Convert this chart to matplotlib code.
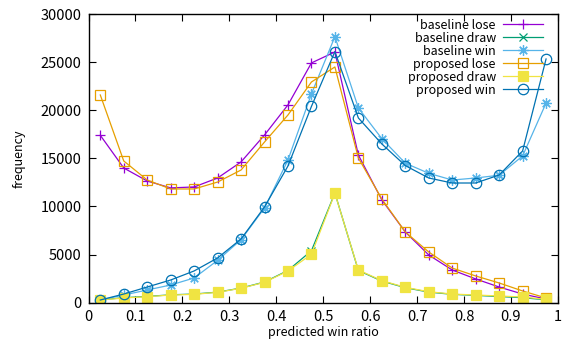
import matplotlib
matplotlib.use("Agg")
import matplotlib.pyplot as plt

plt.rcParams['font.family'] = ['Noto Sans CJK JP', 'DejaVu Sans']

# bin centres of the predicted win ratio
ratio = [0.025, 0.075, 0.125, 0.175, 0.225, 0.275, 0.325, 0.375, 0.425, 0.475,
         0.525, 0.575, 0.625, 0.675, 0.725, 0.775, 0.825, 0.875, 0.925, 0.975]

baseline_lose = [17400, 14000, 12650, 11930, 12030, 12960, 14630, 17430, 20560, 24920,
                 26060, 15350, 10680, 7350, 4960, 3400, 2470, 1630, 900, 380]
baseline_draw = [300, 520, 650, 820, 900, 1100, 1520, 2150, 3350, 5400,
                 11400, 3350, 2250, 1560, 1100, 870, 760, 640, 520, 300]
baseline_win = [280, 800, 1320, 1840, 2570, 4400, 6550, 9850, 14830, 21700,
                27650, 20240, 17050, 14500, 13450, 12750, 12960, 13250, 15250, 20750]
proposed_lose = [21590, 14730, 12750, 11820, 11820, 12540, 13790, 16700, 19510, 22940,
                 24500, 15040, 10780, 7350, 5270, 3600, 2780, 2050, 1220, 490]
proposed_draw = [280, 490, 620, 800, 870, 1080, 1500, 2120, 3300, 5030,
                 11370, 3400, 2290, 1600, 1140, 900, 800, 700, 590, 350]
proposed_win = [280, 900, 1630, 2360, 3300, 4650, 6620, 9950, 14210, 20400,
                26100, 19200, 16500, 14250, 12960, 12440, 12440, 13270, 15770, 25330]

fig = plt.figure(figsize=(5.64, 3.40), dpi=100)
ax = fig.add_axes([0.157, 0.1097, 0.832, 0.849])

lw = 0.9
ms = 7.5
ax.plot(ratio, baseline_lose, color='#9400d3', lw=lw, marker='+', ms=ms,
        mew=lw, label='baseline lose')
ax.plot(ratio, baseline_draw, color='#009e73', lw=lw, marker='x', ms=ms * 0.8,
        mew=lw, label='baseline draw')
ax.plot(ratio, baseline_win, color='#56b4e9', lw=lw, marker=(8, 2, 0), ms=ms,
        mew=lw, label='baseline win')
ax.plot(ratio, proposed_lose, color='#e69f00', lw=lw, marker='s', ms=ms,
        mfc='none', mew=lw, label='proposed lose')
ax.plot(ratio, proposed_draw, color='#f0e442', lw=lw, marker='s', ms=ms,
        mew=lw, label='proposed draw')
ax.plot(ratio, proposed_win, color='#0072b2', lw=lw, marker='o', ms=ms,
        mfc='none', mew=lw, label='proposed win')

ax.set_xlim(0, 1)
ax.set_ylim(0, 30000)
ax.set_xticks([i / 10 for i in range(11)])
ax.set_xticklabels(['0', '0.1', '0.2', '0.3', '0.4', '0.5', '0.6', '0.7', '0.8', '0.9', '1'])
ax.set_yticks(range(0, 30001, 5000))
ax.tick_params(direction='in', top=True, right=True, length=5, width=0.8,
               labelsize=10.5, pad=5)
for s in ax.spines.values():
    s.set_linewidth(1.0)

ax.set_xlabel('predicted win ratio', fontsize=9, labelpad=2)
ax.set_ylabel('frequency', fontsize=9)
ax.yaxis.set_label_coords(-0.135, 0.5)

ax.legend(loc='upper right', bbox_to_anchor=(0.985, 1.01), frameon=False,
          markerfirst=False, fontsize=9, handlelength=3.2, handletextpad=0.6,
          labelspacing=0.0, borderaxespad=0.2)

fig.savefig('out.png', dpi=100)
